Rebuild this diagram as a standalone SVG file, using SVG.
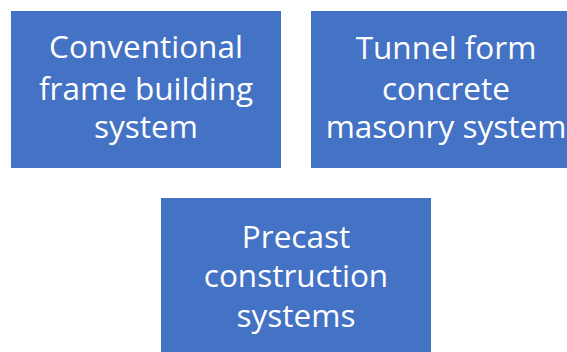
<svg xmlns="http://www.w3.org/2000/svg" width="567" height="352" viewBox="0 0 567 352">
<style>
.box{fill:#4472C4;}
.t{font-family:"Open Sans","Noto Sans",sans-serif;font-size:31.5px;fill:#ffffff;text-anchor:middle;}
</style>
<rect width="567" height="352" fill="#ffffff"/>
<g id="conventional">
<rect class="box" x="11" y="11" width="270" height="157"/>
<text class="t" x="146" y="58">Conventional</text>
<text class="t" x="146" y="100">frame building</text>
<text class="t" x="146" y="138">system</text>
</g>
<g id="tunnel">
<rect class="box" x="311" y="11" width="270" height="157"/>
<text class="t" x="446" y="59">Tunnel form</text>
<text class="t" x="446" y="100">concrete</text>
<text class="t" x="446" y="138">masonry system</text>
</g>
<g id="precast">
<rect class="box" x="161" y="198" width="270" height="157"/>
<text class="t" x="296" y="248">Precast</text>
<text class="t" x="296" y="287">construction</text>
<text class="t" x="296" y="327">systems</text>
</g>
<g id="connectors"></g>
</svg>
